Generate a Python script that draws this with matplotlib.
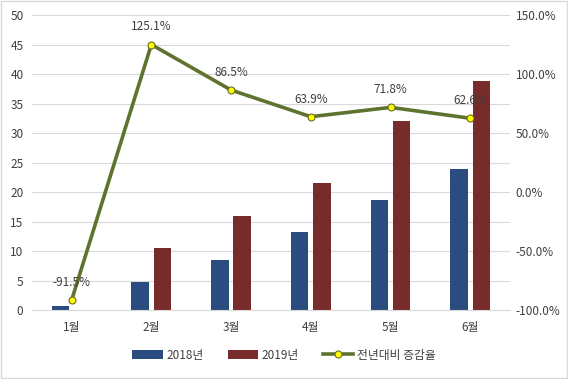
import matplotlib.pyplot as plt
import matplotlib.patches as mpatches
from matplotlib.ticker import FuncFormatter
import numpy as np

plt.rcParams['font.family'] = ['Noto Sans CJK KR', 'DejaVu Sans']

months = ['1월', '2월', '3월', '4월', '5월', '6월']
sales_2018 = [0.6, 4.7, 8.4, 13.2, 18.7, 23.9]
sales_2019 = [0.05, 10.6, 15.9, 21.6, 32.1, 38.8]
growth = [-91.5, 125.1, 86.5, 63.9, 71.8, 62.6]

c2018 = '#2b4c7e'
c2019 = '#772b2a'
cline = '#5f7330'
txt = '#404040'

fig = plt.figure(figsize=(5.68, 3.79), dpi=100)
ax = fig.add_axes([0.056, 0.182, 0.842, 0.778])
ax2 = ax.twinx()

x = np.arange(len(months))
w = 0.22
gap = 0.03
ax.bar(x - w / 2 - gap, sales_2018, w, color=c2018, label='2018년', zorder=2)
ax.bar(x + w / 2 + gap, sales_2019, w, color=c2019, label='2019년', zorder=2)

ax.set_ylim(0, 50)
ax.set_yticks(range(0, 51, 5))
ax.set_xlim(-0.5, 5.5)
ax.set_xticks(x)
ax.set_xticklabels(months)
ax.grid(axis='y', color='#d9d9d9', lw=0.8, zorder=0)
ax.set_axisbelow(True)

ax2.plot(x, growth, color=cline, lw=2.6, marker='o', ms=5,
         markerfacecolor='#ffff00', markeredgecolor='#6b6b1e', mew=0.8,
         label='전년대비 증감율', zorder=3)
ax2.set_ylim(-100, 150)
ax2.set_yticks(range(-100, 151, 50))
ax2.yaxis.set_major_formatter(FuncFormatter(lambda v, p: f'{v:.1f}%'))
for xi, g in zip(x, growth):
    ax2.annotate(f'{g:.1f}%', (xi, g), xytext=(0, 8), textcoords='offset points',
                 ha='center', va='bottom', fontsize=8.5, color=txt)

for a in (ax, ax2):
    for s in a.spines.values():
        s.set_visible(False)
    a.tick_params(length=0, labelsize=8.5, colors=txt)
ax.spines['bottom'].set_visible(True)
ax.spines['bottom'].set_color('#d9d9d9')
ax.tick_params(axis='x', pad=8)
ax.tick_params(axis='y', pad=6)
ax2.tick_params(axis='y', pad=4)

h1, l1 = ax.get_legend_handles_labels()
h2, l2 = ax2.get_legend_handles_labels()
fig.legend(h1 + h2, l1 + l2, loc='center', bbox_to_anchor=(0.5, 0.063), ncol=3,
           frameon=False, fontsize=8.5, labelcolor=txt, handlelength=2.6,
           columnspacing=2.0, handletextpad=0.3)

fig.patches.append(mpatches.Rectangle((0.002, 0.003), 0.996, 0.994, transform=fig.transFigure,
                                      fill=False, edgecolor='#d9d9d9', lw=1))

fig.savefig('out.png', dpi=100)
